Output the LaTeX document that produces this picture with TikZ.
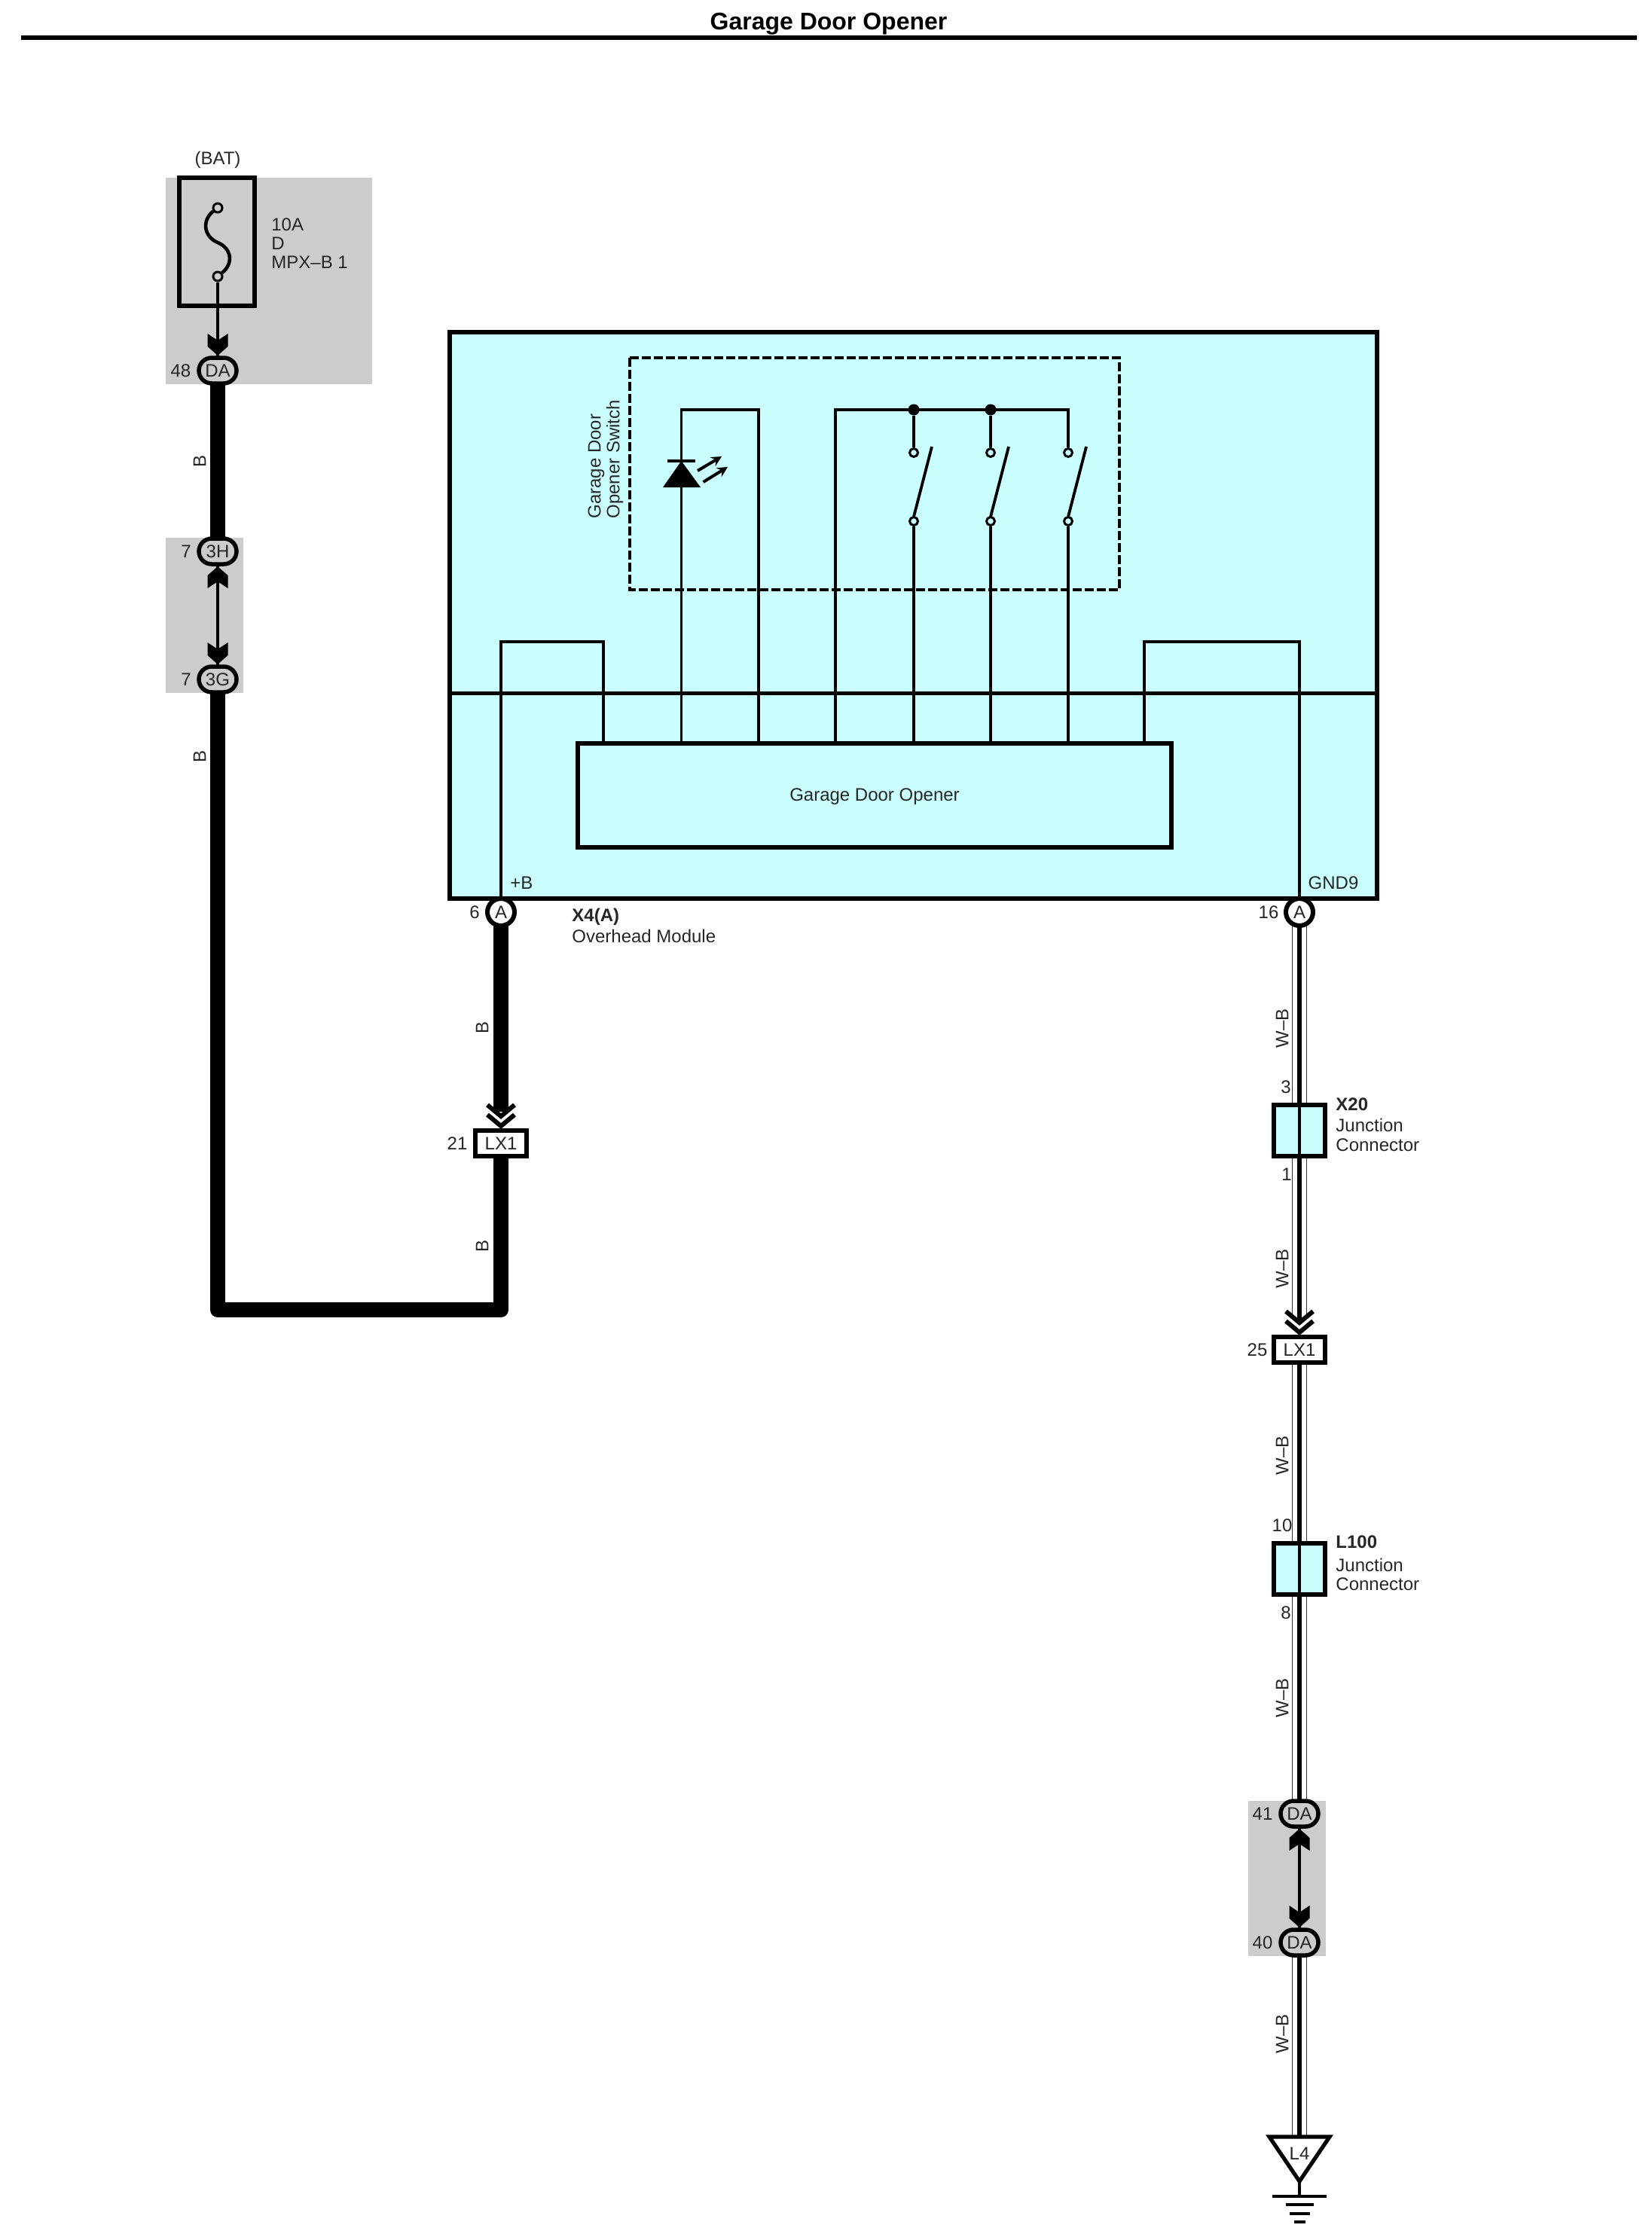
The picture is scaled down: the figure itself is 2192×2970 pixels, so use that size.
\documentclass[tikz,border=0pt]{standalone}
\usepackage{fontspec}
\setmainfont{Liberation Sans}
\usetikzlibrary{calc, shapes, arrows}
\pgfdeclarelayer{panel}
\pgfdeclarelayer{wire}
\pgfsetlayers{panel,wire,main}
\definecolor{modcyan}{HTML}{C9FFFF}
\definecolor{fusegray}{HTML}{CCCCCC}
\begin{document}
\begin{tikzpicture}[x=0.5pt,y=-0.5pt]
\tikzset{
  every node/.style={inner sep=0pt,font=\fontsize{12}{12.6}\selectfont,text=black!85},
  heading/.style={font=\bfseries\fontsize{16}{18}\selectfont,text=black},
  tag/.style={anchor=west,align=left},
  tagb/.style={anchor=west,font=\bfseries\fontsize{12}{13}\selectfont},
  color code/.style={rotate=90},
  oval/.style={rounded rectangle,draw=black,fill=#1,line width=2.75pt,minimum width=25pt,minimum height=17pt},
  pin/.style={circle,draw=black,fill=white,line width=3pt,minimum size=18pt},
  plug/.style={rectangle,draw=black,fill=white,line width=2.75pt,minimum width=34pt,minimum height=17pt},
  junction/.style={rectangle,draw=black,fill=modcyan,line width=2.75pt,minimum width=34pt,minimum height=34pt},
  term/.style={circle,draw=black,fill=#1,line width=1.5pt,minimum size=5.5pt},
  dot/.style={circle,fill=black,minimum size=7.5pt},
  fine/.style={draw=black,line width=1.6pt},
  heavy/.style={draw=black,line width=2.6pt},
  bwire/.style={draw=black,line width=10pt,line join=round},
  wbline/.style={draw=black,line width=2.6pt},
  wbwire/.style={wbline,preaction={draw=black!80,line width=10pt},preaction={draw=white,line width=9pt}},
  fatarrow/.pic={\fill[black] (-13.5,-29) -- (0,-20) -- (13.5,-29) -- (13.5,-12) -- (0,0) -- (-13.5,-12) -- cycle;},
  dblchevron/.pic={\draw[line width=3pt,black] (-18,-31) -- (0,-16) -- (18,-31);
    \draw[line width=3pt,black] (-18,-18) -- (0,-3) -- (18,-18);}
}
\useasboundingbox (0,0) rectangle (2192,2970);
% title
\node[heading] (title) at (1100,32) {Garage Door Opener};
\draw[line width=2.6pt] (28,50) -- (2173,50);
% grey fuse and splice panels
\begin{pgfonlayer}{panel}
\fill[fusegray] (220,236) rectangle (494,510);
\fill[fusegray] (220,714) rectangle (323,920);
\fill[fusegray] (1657,2391) rectangle (1760,2597);
\node[draw=black,fill=modcyan,line width=2.6pt,minimum width=615.5pt,minimum height=376pt] (module) at (1212.5,817) {};
\end{pgfonlayer}
% connectors
\node[oval=fusegray] (C_48) at (289,492) {DA};
\node[oval=fusegray] (C_3H) at (289,732) {3H};
\node[oval=fusegray] (C_3G) at (289,902) {3G};
\node[pin] (A_6) at (665,1211) {A};
\node[pin] (A_16) at (1725,1211) {A};
\node[plug] (LX_21) at (665,1518) {LX1};
\node[plug] (LX_25) at (1725,1792) {LX1};
\node[junction] (X_20) at (1725,1501) {};
\node[junction] (L_100) at (1725,2083) {};
\node[oval=fusegray] (C_41) at (1725,2408) {DA};
\node[oval=fusegray] (C_40) at (1725,2579) {DA};
\node[draw=black,fill=modcyan,line width=2.6pt,minimum width=394pt,minimum height=69pt] (gdo) at (1161,1056) {};
\node (gdo_text) at (1161,1058) {Garage Door Opener};
\coordinate (bend_a) at (289,1739);
\coordinate (bend_b) at (665,1739);
\coordinate (chev_21) at (665,1476);
\coordinate (chev_25) at (1725,1747);
\coordinate (tri_top) at (1725,2837);
\coordinate (tri_apex) at (1725,2896);
\coordinate (gnd) at (1725,2916);
% fuse
\node[draw=black,line width=2.75pt,minimum width=50pt,minimum height=85pt] (fuse) at (288,321) {};
\node[term=fusegray,minimum size=6pt] (fuse_a) at (289,276) {};
\node[term=fusegray,minimum size=6pt] (fuse_b) at (289,367) {};
\draw[line width=2.3pt] (fuse_a) .. controls (268,292) and (270,314) .. (289,322) .. controls (308,330) and (310,350) .. (fuse_b);
% top of block
\foreach \n/\x in {a/801,b/904.5,c/1007,d/1109,e/1213,f/1315,g/1418,h/1519}
  \coordinate (tap_\n) at (\x,987);
\coordinate (led_tl) at (904.5,544);
\coordinate (led_tr) at (1007,544);
\coordinate (bus_l) at (1109,544);
\coordinate (loop_l) at (665,852);
\coordinate (loop_r) at (1725,852);
\node[dot] (dot_e) at (1213,544) {};
\node[dot] (dot_f) at (1315,544) {};
\coordinate (bus_r) at (1418,544);
\foreach \n/\x in {e/1213,f/1315,g/1418} {
  \node[term=modcyan] (sw_\n_t) at (\x,601) {};
  \node[term=modcyan] (sw_\n_b) at (\x,692) {};
  \draw[line width=1.9pt] (\x,686) -- (\x+24,593);
}
% wires under the connectors
\begin{pgfonlayer}{wire}
\draw[heavy,line width=2.5pt] (module.west |- 0,920) -- (module.east |- 0,920);
\draw[heavy,line width=2pt,dash pattern=on 6pt off 2pt] (836,475) rectangle (1486,783);
\draw[bwire] (C_48.center) -- (C_3H.center);
\draw[bwire] (C_3G.center) -- (bend_a) -- (bend_b) -- (LX_21.center);
\draw[bwire] (A_6.center) -- (chev_21);
\draw[fine] (fuse_b) -- (C_48.center);
\draw[fine] (C_3H.center) -- (C_3G.center);
\draw[fine] (C_41.center) -- (C_40.center);
\draw[fine] (A_6.center) -- (loop_l) -| (tap_a);
\draw[fine] (A_16.center) -- (loop_r) -| (tap_h);
\draw[fine] (tap_b) -- (led_tl) -- (led_tr) -- (tap_c);
\draw[fine] (tap_d) -- (bus_l) -- (bus_r) -- (sw_g_t);
\draw[fine] (dot_e) -- (sw_e_t);
\draw[fine] (dot_f) -- (sw_f_t);
\draw[fine] (sw_e_b) -- (tap_e);
\draw[fine] (sw_f_b) -- (tap_f);
\draw[fine] (sw_g_b) -- (tap_g);
\draw[wbwire] (A_16.center) -- (X_20.center);
\draw[wbwire] (X_20.center) -- (chev_25);
\draw[wbline] (chev_25) -- ++(0,9);
\draw[wbwire] (LX_25.center) -- (L_100.center);
\draw[wbwire] (L_100.center) -- (C_41.center);
\draw[wbwire] (C_40.center) -- (tri_top);
\end{pgfonlayer}
\draw[fine] (X_20.north) -- (X_20.south);
\draw[fine] (L_100.north) -- (L_100.south);
% arrow heads
\path (289,472) pic {fatarrow};
\path (289,752) pic[rotate=180] {fatarrow};
\path (289,882) pic {fatarrow};
\path (1725,2428) pic[rotate=180] {fatarrow};
\path (1725,2559) pic {fatarrow};
\path (665,1498) pic {dblchevron};
\path (1725,1772) pic {dblchevron};
% led
\fill[black] (880,647) -- (930,647) -- (904.5,612) -- cycle;
\draw[line width=1.8pt] (886,612) -- (923,612);
\draw[-stealth,line width=2pt] (926,625) -- (958,606);
\draw[-stealth,line width=2pt] (933.5,640) -- (966,620);
% ground
\draw[heavy,fill=white,line join=miter] (1685,2837) -- (1765,2837) -- (tri_apex) -- cycle;
\draw[fine] (tri_apex) -- (gnd);
\foreach \y/\w in {2916/36,2927/18.5,2939/13.5,2950/7.5}
  \draw[fine] (1725-\w,\y) -- (1725+\w,\y);
\node (L4) at (1725,2859) {L4};
% labels
\node (bat) at (289,212) {(BAT)};
\node[tag] (fuse_text) at (360,323) {10A\\D\\MPX–B 1};
\node[tag,rotate=90,anchor=west] (sw_text) at (804,689) {Garage Door\\Opener Switch};
\node[tag] (plus_b) at (677,1172) {+B};
\node (gnd9) at (1770,1172) {GND9};
\node[tagb] (x4) at (759,1217) {X4(A)};
\node[tag] (x4_text) at (759,1243) {Overhead Module};
\node[tagb] (x20) at (1773,1466) {X20};
\node[tag] (x20_text) at (1773,1507) {Junction\\Connector};
\node[tagb] (l100) at (1773,2047) {L100};
\node[tag] (l100_text) at (1773,2090) {Junction\\Connector};
\foreach \n/\x/\y/\t in {a/240/492/48,b/247/732/7,c/247/902/7,d/630/1211/6,e/1684/1211/16,f/607/1518/21,g/1669/1792/25,h/1707/1443/3,i/1708/1559/1,j/1702/2025/10,k/1707/2141/8,l/1676/2408/41,m/1676/2579/40}
  \node (num_\n) at (\x,\y) {\t};
\foreach \n/\x/\y in {a/265/612,b/265/1004,c/640/1364,d/640/1654}
  \node[color code] (code_\n) at (\x,\y) {B};
\foreach \n/\y in {a/1365,b/1684,c/1932,d/2254,e/2700}
  \node[color code] (code_w\n) at (1702,\y) {W–B};
\end{tikzpicture}
\end{document}
